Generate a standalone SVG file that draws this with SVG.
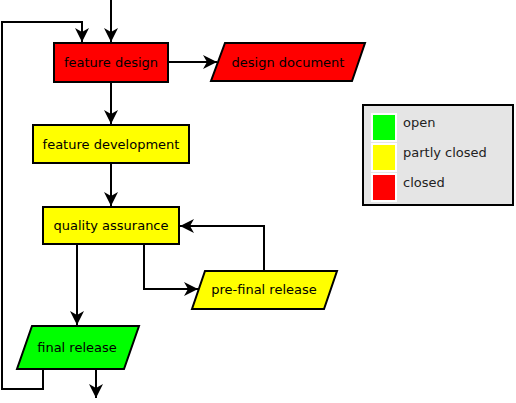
<svg xmlns="http://www.w3.org/2000/svg" width="516" height="403" viewBox="0 0 516 403">
<style>
text{font-family:"DejaVu Sans",sans-serif;font-size:13px;fill:#000}
.n{stroke:#000;stroke-width:2}
.c{fill:none;stroke:#000;stroke-width:2}
.lg text{fill:#222}
</style>
<defs>
<marker id="a" markerUnits="userSpaceOnUse" markerWidth="16" markerHeight="16" viewBox="0 0 16 16" refX="15" refY="8" orient="auto">
<path d="M1,1 L15,8 L1,15 L5,8 z" fill="#000"/>
</marker>
</defs>
<rect width="516" height="403" fill="#fff"/>
<g id="connectors">
<path class="c" d="M111,0 V42" marker-end="url(#a)"/>
<path class="c" d="M43,369 V389 H2 V22 H82 V42" marker-end="url(#a)"/>
<path class="c" d="M168,62 H217" marker-end="url(#a)"/>
<path class="c" d="M111,82 V124" marker-end="url(#a)"/>
<path class="c" d="M111,163 V206" marker-end="url(#a)"/>
<path class="c" d="M77,244 V325" marker-end="url(#a)"/>
<path class="c" d="M144,244 V289 H198" marker-end="url(#a)"/>
<path class="c" d="M264,271 V226 H180" marker-end="url(#a)"/>
<path class="c" d="M96,369 V398" marker-end="url(#a)"/>
</g>
<g id="feature-design">
<rect class="n" x="54" y="43" width="114" height="39" fill="#ff0000"/>
<text x="111" y="67" text-anchor="middle">feature design</text>
</g>
<g id="design-document">
<polygon class="n" points="225,43 365,43 352,81 211,81" fill="#ff0000"/>
<text x="288" y="67" text-anchor="middle">design document</text>
</g>
<g id="feature-development">
<rect class="n" x="33" y="125" width="156" height="38" fill="#ffff00"/>
<text x="111" y="149" text-anchor="middle">feature development</text>
</g>
<g id="quality-assurance">
<rect class="n" x="43" y="207" width="136" height="37" fill="#ffff00"/>
<text x="111" y="230" text-anchor="middle">quality assurance</text>
</g>
<g id="pre-final-release">
<polygon class="n" points="205,271 337,271 324,309 192,309" fill="#ffff00"/>
<text x="264" y="294" text-anchor="middle">pre-final release</text>
</g>
<g id="final-release">
<polygon class="n" points="32,326 139,326 124,369 17,369" fill="#00ff00"/>
<text x="77" y="352" text-anchor="middle">final release</text>
</g>
<g id="legend" class="lg">
<rect x="363" y="105" width="150" height="100" fill="#e5e5e5" stroke="#000" stroke-width="2"/>
<rect x="372" y="114" width="24" height="27" fill="#00ff00" stroke="#fff" stroke-width="2"/>
<rect x="372" y="144" width="24" height="27" fill="#ffff00" stroke="#fff" stroke-width="2"/>
<rect x="372" y="174" width="24" height="27" fill="#ff0000" stroke="#fff" stroke-width="2"/>
<text x="403" y="127">open</text>
<text x="403" y="157">partly closed</text>
<text x="403" y="187">closed</text>
</g>
</svg>
